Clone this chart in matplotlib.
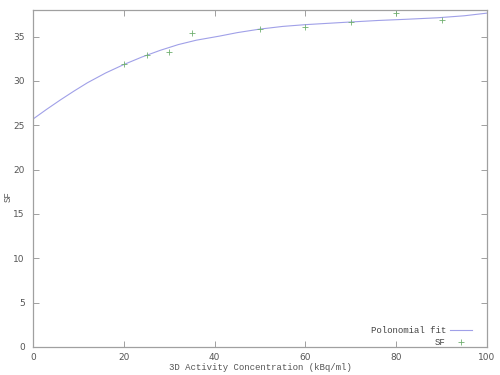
import matplotlib
matplotlib.use("Agg")
import matplotlib.pyplot as plt

# SF measurements
conc = [20, 25, 30, 35, 50, 60, 70, 80, 90]
sf = [31.9, 32.9, 33.3, 35.4, 35.9, 36.1, 36.6, 37.7, 36.9]

# Polynomial fit curve
fit_x = [0, 3, 6, 9, 12, 16, 20, 24, 28, 32, 36, 41, 45, 50, 55, 60, 65, 70, 76, 82, 89, 95, 100]
fit_y = [25.7, 26.8, 27.85, 28.85, 29.8, 30.9, 31.85, 32.7, 33.45, 34.1, 34.6, 35.05, 35.45, 35.85,
         36.15, 36.35, 36.5, 36.65, 36.82, 36.95, 37.12, 37.35, 37.65]

xticks = [0, 20, 40, 60, 80, 100]
yticks = [0, 5, 10, 15, 20, 25, 30, 35]

fig = plt.figure(figsize=(5, 3.75), dpi=100)
ax = fig.add_axes([0.066, 0.0747, 0.908, 0.8986])

ax.plot(fit_x, fit_y, color="#a0a0e8", lw=0.8, label="Polonomial fit")
ax.plot(conc, sf, ls="none", marker="+", ms=5, mew=0.6, color="#70b070", label="SF")

ax.set_xlim(0, 100)
ax.set_ylim(0, 38)
ax.set_xticks(xticks)
ax.set_yticks(yticks)

for s in ax.spines.values():
    s.set_color("#a0a0a0")
    s.set_linewidth(0.9)
ax.tick_params(direction="in", top=True, right=True, length=4, width=0.7,
               color="#a0a0a0", labelcolor="#555555", labelsize=6.5, pad=4)
ax.tick_params(axis="y", pad=6)

fig.text(0.52, 0.019, "3D Activity Concentration (kBq/ml)", family="Liberation Mono",
         fontsize=6.5, color="#555555", ha="center", va="center")
fig.text(0.016, 0.475, "SF", family="Liberation Mono", fontsize=6.5, color="#555555",
         ha="center", va="center", rotation=90)

leg = ax.legend(loc="lower right", bbox_to_anchor=(0.975, -0.012), frameon=False,
                markerfirst=False, prop={"family": "Liberation Mono", "size": 6.5},
                handlelength=2.4, borderaxespad=0.0, labelspacing=0.35, handletextpad=0.5)
for t in leg.get_texts():
    t.set_color("#444444")
    t.set_ha("right")

fig.savefig("out.png", dpi=100)
